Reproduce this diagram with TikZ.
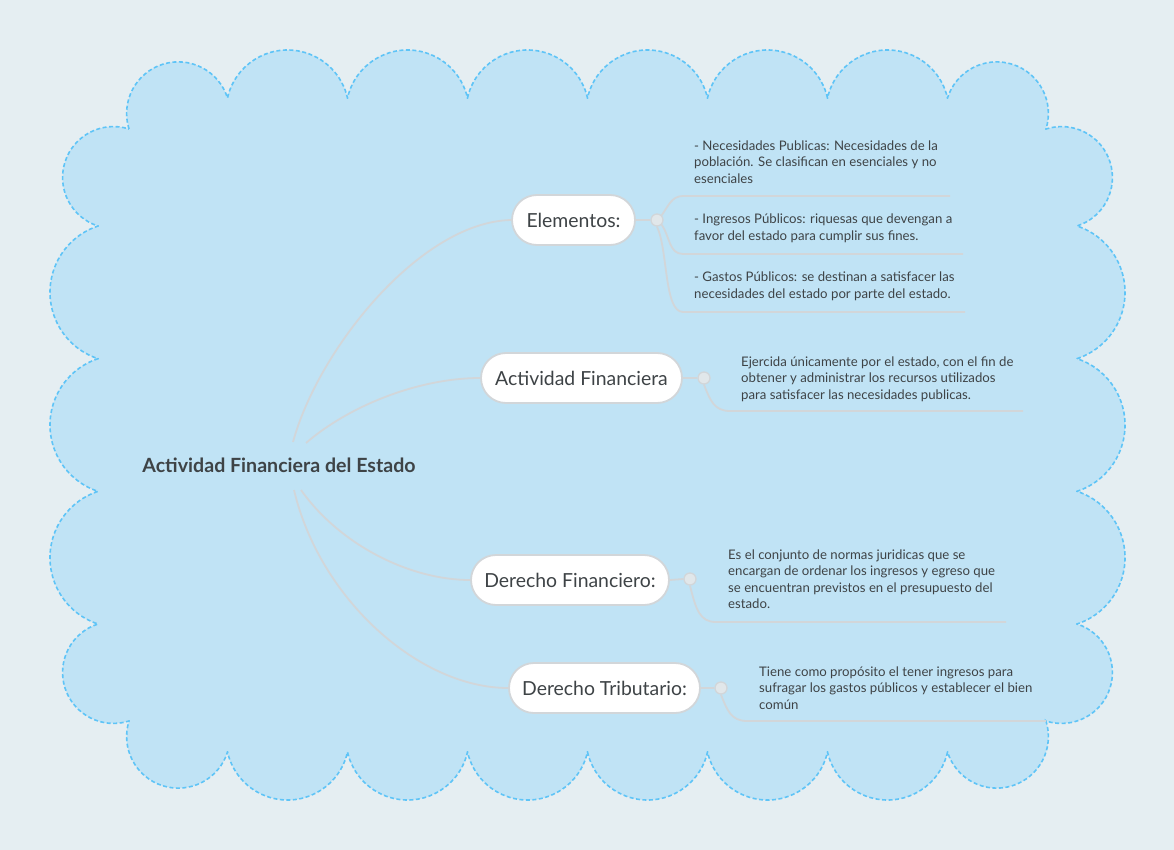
\documentclass[tikz,border=0pt]{standalone}
\usepackage{fontspec}
\setmainfont{Lato}
\definecolor{bg}{HTML}{E5EEF2}
\definecolor{cloudfill}{HTML}{C0E3F5}
\definecolor{clouddraw}{HTML}{5EC4F7}
\definecolor{linkgray}{HTML}{D2D6D9}
\definecolor{txt}{HTML}{3E4346}
\definecolor{dotfill}{HTML}{E1E7EA}
\begin{document}
\begin{tikzpicture}[x=1pt,y=-1pt,
  branch/.style={draw=linkgray, line width=1.8pt, fill=white, rounded corners=25pt,
    minimum height=50pt, inner xsep=0pt, font=\fontsize{19.4}{22}\selectfont, text=txt},
  dot/.style={circle, minimum size=12pt, inner sep=0pt, fill=dotfill, draw=linkgray, line width=1.3pt},
  link/.style={draw=linkgray, line width=1.8pt},
  desc/.style={anchor=north west, inner sep=0pt, align=left, font=\fontsize{13.2}{16.4}\selectfont, text=txt}]
\useasboundingbox (0,0) rectangle (1174,850);
\fill[bg] (0,0) rectangle (1174,850);
% cloud
\path[fill=cloudfill, draw=clouddraw, line width=1.6pt, dash pattern=on 4pt off 2.5pt]
 (129,129) arc[start angle=197.47, end angle=17.47, radius=51.63pt]
 -- (227.5,98) arc[start angle=167.32, end angle=12.68, radius=61.5pt]
 -- (347.5,98) arc[start angle=167.32, end angle=12.68, radius=61.5pt]
 -- (467.5,98) arc[start angle=167.32, end angle=12.68, radius=61.5pt]
 -- (587.5,98) arc[start angle=167.32, end angle=12.68, radius=61.5pt]
 -- (707.5,98) arc[start angle=167.32, end angle=12.68, radius=61.5pt]
 -- (827.5,98) arc[start angle=167.32, end angle=12.68, radius=61.5pt]
 -- (947.5,98) arc[start angle=162.53, end angle=-17.47, radius=51.63pt]
 -- (1046,129) arc[start angle=107.72, end angle=-72.28, radius=50.92pt]
 -- (1077,226) arc[start angle=71.78, end angle=-71.78, radius=69.83pt]
 -- (1077,358.67) arc[start angle=71.78, end angle=-71.78, radius=69.83pt]
 -- (1077,491.33) arc[start angle=71.78, end angle=-71.78, radius=69.83pt]
 -- (1077,624) arc[start angle=72.28, end angle=-107.72, radius=50.92pt]
 -- (1046,721) arc[start angle=17.47, end angle=-162.53, radius=51.63pt]
 -- (947.5,752) arc[start angle=-12.68, end angle=-167.32, radius=61.5pt]
 -- (827.5,752) arc[start angle=-12.68, end angle=-167.32, radius=61.5pt]
 -- (707.5,752) arc[start angle=-12.68, end angle=-167.32, radius=61.5pt]
 -- (587.5,752) arc[start angle=-12.68, end angle=-167.32, radius=61.5pt]
 -- (467.5,752) arc[start angle=-12.68, end angle=-167.32, radius=61.5pt]
 -- (347.5,752) arc[start angle=-12.68, end angle=-167.32, radius=61.5pt]
 -- (227.5,752) arc[start angle=-17.47, end angle=-197.47, radius=51.63pt]
 -- (129,721) arc[start angle=-72.28, end angle=-252.28, radius=50.92pt]
 -- (98,624) arc[start angle=-108.22, end angle=-251.78, radius=69.83pt]
 -- (98,491.33) arc[start angle=-108.22, end angle=-251.78, radius=69.83pt]
 -- (98,358.67) arc[start angle=-108.22, end angle=-251.78, radius=69.83pt]
 -- (98,226) arc[start angle=-107.72, end angle=-287.72, radius=50.92pt]
 -- cycle;

% root
\node[font=\bfseries\fontsize{19.6}{23}\selectfont, text=txt] (root) at (279,465) {Actividad Financiera del Estado};
\coordinate (rootA) at (293,442);
\coordinate (rootB) at (306,443);
\coordinate (rootC) at (301,490);
\coordinate (rootD) at (294,490);

% branches
\node[branch, minimum width=123pt] (elem) at (573.5,220) {Elementos:};
\node[branch, minimum width=201pt] (actf) at (581.5,378) {Actividad Financiera};
\node[branch, minimum width=198pt] (dfin) at (570,580) {Derecho Financiero:};
\node[branch, minimum width=191pt] (dtri) at (604.5,688) {Derecho Tributario:};

\draw[link] (rootA) .. controls (318,350) and (420,222) .. (elem.west);
\draw[link] (rootB) .. controls (350,405) and (420,378) .. (actf.west);
\draw[link] (rootC) .. controls (340,545) and (410,580) .. (dfin.west);
\draw[link] (rootD) .. controls (320,600) and (420,688) .. (dtri.west);

% dots
\node[dot] (d1) at (657,220) {};
\node[dot] (d2) at (704,378) {};
\node[dot] (d3) at (690,579) {};
\node[dot] (d4) at (721,688) {};

\draw[link] (elem.east) -- (d1.west);
\draw[link] (actf.east) -- (d2.west);
\draw[link] (dfin.east) -- (d3.west);
\draw[link] (dtri.east) -- (d4.west);

% underline coordinates
\coordinate (u1a) at (683,196); \coordinate (u1b) at (950,196);
\coordinate (u2a) at (683,254); \coordinate (u2b) at (963,254);
\coordinate (u3a) at (683,312); \coordinate (u3b) at (965,312);
\coordinate (u4a) at (730,411); \coordinate (u4b) at (1023,411);
\coordinate (u5a) at (716,622); \coordinate (u5b) at (1006,622);
\coordinate (u6a) at (747,721); \coordinate (u6b) at (1046,721);

\draw[link] (d1.north east) to[out=55,in=180] (u1a) -- (u1b);
\draw[link] (d1.south east) to[out=-55,in=180] (u2a) -- (u2b);
\draw[link] (d1.south) .. controls (668,250) and (664,312) .. (u3a) -- (u3b);
\draw[link] (d2.south) .. controls (710,400) and (714,411) .. (u4a) -- (u4b);
\draw[link] (d3.south) .. controls (696,610) and (700,622) .. (u5a) -- (u5b);
\draw[link] (d4.south) .. controls (727,710) and (731,721) .. (u6a) -- (u6b);

% descriptions
\node[desc] (t1) at (694,138.6) {\strut- Necesidades Publicas: Necesidades de la\\población. Se clasifican en esenciales y no\\esenciales};
\node[desc] (t2) at (694,212.1) {\strut- Ingresos Públicos: riquesas que devengan a\\favor del estado para cumplir sus fines.};
\node[desc] (t3) at (694,270.1) {\strut- Gastos Públicos: se destinan a satisfacer las\\necesidades del estado por parte del estado.};
\node[desc] (t4) at (741,354.6) {\strut Ejercida únicamente por el estado, con el fin de\\obtener y administrar los recursos utilizados\\para satisfacer las necesidades publicas.};
\node[desc] (t5) at (728,547.6) {\strut Es el conjunto de normas juridicas que se\\encargan de ordenar los ingresos y egreso que\\se encuentran previstos en el presupuesto del\\estado.};
\node[desc] (t6) at (759,664.6) {\strut Tiene como propósito el tener ingresos para\\sufragar los gastos públicos y establecer el bien\\común};
\end{tikzpicture}
\end{document}
